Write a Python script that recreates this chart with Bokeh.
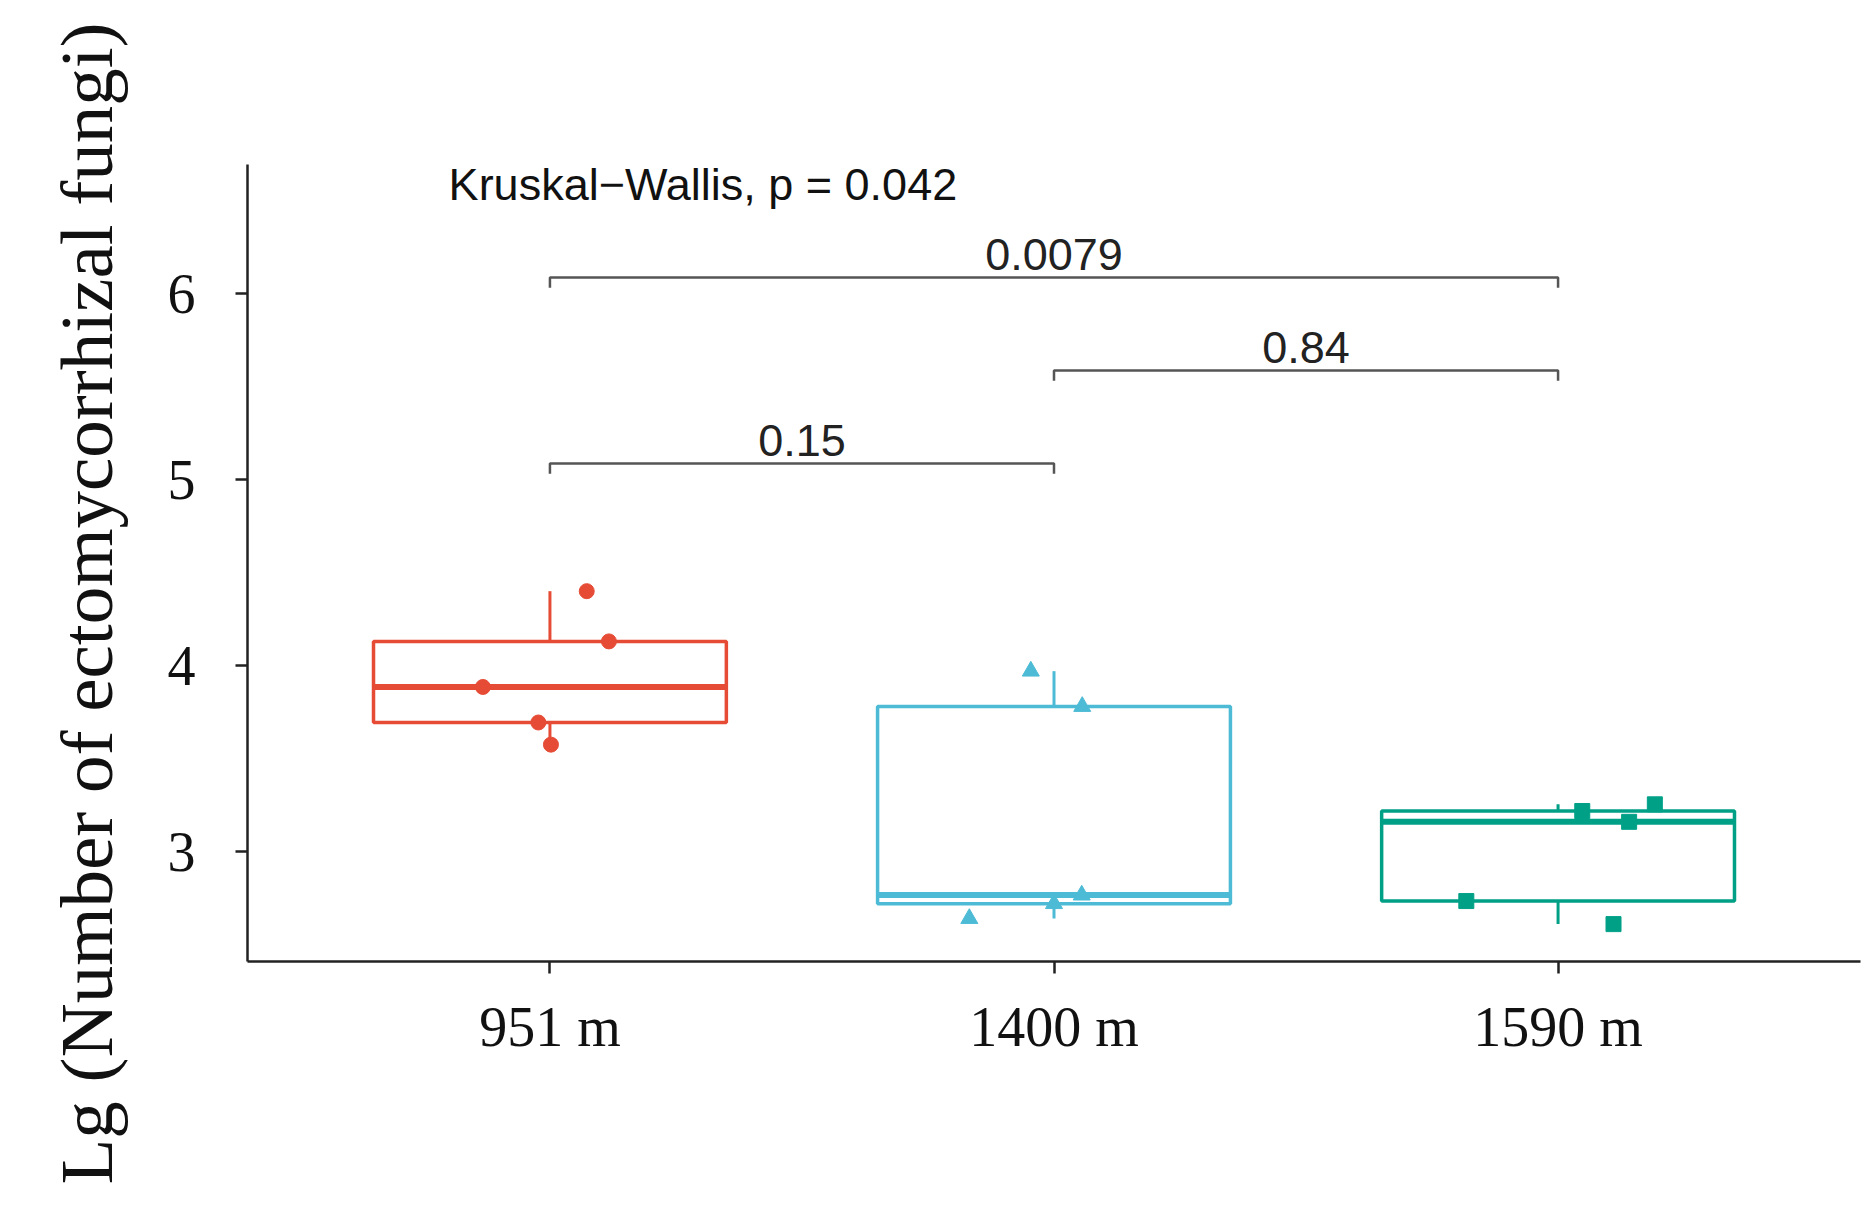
import numpy as np
from bokeh.plotting import figure
from bokeh.models import Range1d, FixedTicker, Title
from bokeh.core.properties import value
from bokeh.embed import file_html
from bokeh.resources import INLINE

# sites along the x axis
sites = ["951 m", "1400 m", "1590 m"]
site_pos = [1, 2, 3]
colours = ["#E64B35", "#4DBBD5", "#00A087"]
markers = ["circle", "triangle", "square"]

# Lg(number of ectomycorrhizal fungi)
vals_951 = [4.40, 4.13, 3.885, 3.694, 3.575]
vals_1400 = [3.97, 3.78, 2.766, 2.72, 2.64]
vals_1590 = [3.254, 3.218, 3.16, 2.734, 2.61]

# horizontal jitter of the points
jit_951 = [0.073, 0.117, -0.133, -0.023, 0.002]
jit_1400 = [-0.046, 0.056, 0.055, 0.0, -0.168]
jit_1590 = [0.192, 0.048, 0.141, -0.182, 0.11]

# pairwise comparisons: (from, to, bracket height, label)
pairs = [(1, 2, 5.086, "0.15"), (2, 3, 5.586, "0.84"), (1, 3, 6.086, "0.0079")]
kruskal_text = "Kruskal\u2212Wallis, p = 0.042"
y_title = "Lg (Number of ectomycorrhizal fungi)"

SERIF = "Liberation Serif"
SANS = "Liberation Sans"
AXIS_COL = "#222222"
H = 1213

p = figure(
    width=1864,
    height=H,
    x_range=Range1d(0.4, 3.6),
    y_range=Range1d(2.409, 6.694),
    output_backend="svg",
    toolbar_location=None,
    tools="",
    min_border_left=247,
    min_border_right=4,
    min_border_top=164,
    min_border_bottom=H - 961,
)
p.outline_line_color = None
p.xgrid.visible = False
p.ygrid.visible = False

for ax in (p.xaxis, p.yaxis):
    ax.axis_line_color = AXIS_COL
    ax.axis_line_width = 2.5
    ax.major_tick_line_color = AXIS_COL
    ax.major_tick_line_width = 2.5
    ax.major_tick_out = 12
    ax.major_tick_in = 0
    ax.minor_tick_line_color = None
    ax.major_label_text_font = SERIF
    ax.major_label_text_font_size = "56px"
    ax.major_label_text_color = "#111111"

p.xaxis.ticker = FixedTicker(ticks=site_pos)
p.xaxis.major_label_overrides = {k: s for k, s in zip(site_pos, sites)}
p.xaxis.major_label_standoff = 22
p.yaxis.ticker = FixedTicker(ticks=[3, 4, 5, 6])
p.yaxis.major_label_standoff = 40

# rotated y title, a side-panel title so that it can run past the frame;
# it starts below the frame bottom like in the source figure
p.add_layout(Title(text=y_title, align="left", offset=-223, standoff=74,
                   text_font=SERIF, text_font_size="75px", text_font_style="normal",
                   text_color="#111111"), "left")

half = 0.35
for xpos, vals, jit, col, mk in zip(
    site_pos, [vals_951, vals_1400, vals_1590], [jit_951, jit_1400, jit_1590], colours, markers
):
    v = np.array(vals)
    q1, med, q3 = np.percentile(v, [25, 50, 75])
    iqr = q3 - q1
    lo = v[v >= q1 - 1.5 * iqr].min()
    hi = v[v <= q3 + 1.5 * iqr].max()
    p.segment(x0=[xpos, xpos], y0=[q3, q1], x1=[xpos, xpos], y1=[hi, lo],
              line_color=col, line_width=3)
    p.quad(left=[xpos - half], right=[xpos + half], bottom=[q1], top=[q3],
           fill_color=None, line_color=col, line_width=3.5)
    p.segment(x0=[xpos - half], y0=[med], x1=[xpos + half], y1=[med],
              line_color=col, line_width=6)
    p.scatter(x=list(xpos + np.array(jit)), y=vals, marker=mk,
              size=17 if mk == "triangle" else 15, fill_color=col, line_color=col)

# comparison brackets
tip = 0.055
for a, b, h, txt in pairs:
    p.line(x=[a, a, b, b], y=[h - tip, h, h, h - tip], line_color="#555555", line_width=2.5)
    p.text(x=[(a + b) / 2], y=[h + 0.125], text=[txt], text_font=value(SANS),
           text_font_size="45px", text_color="#222222", text_align="center",
           text_baseline="alphabetic")

p.text(x=[0.799], y=[6.585], text=[kruskal_text], text_font=value(SANS),
       text_font_size="45px", text_color="#111111", text_align="left",
       text_baseline="alphabetic")

open("out.html", "w").write(file_html(p, INLINE))
